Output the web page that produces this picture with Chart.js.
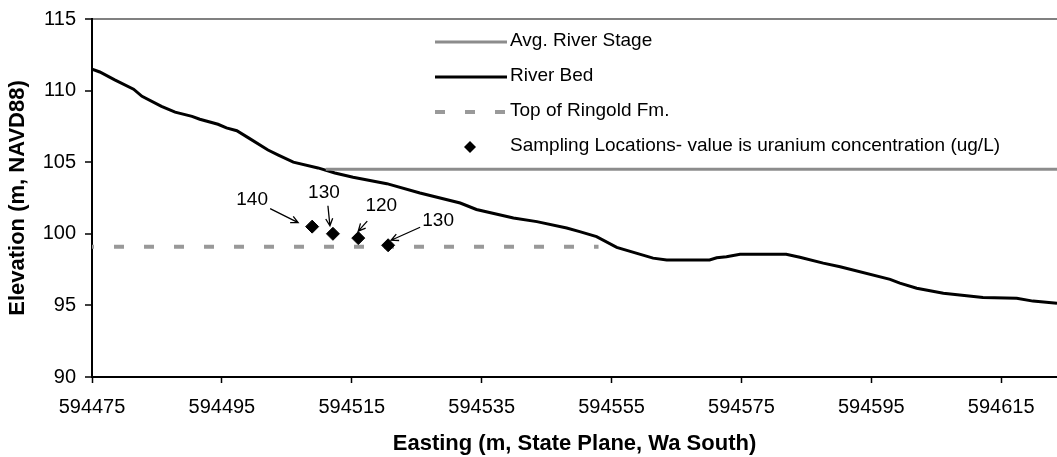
<!DOCTYPE html>
<html>
<head>
<meta charset="utf-8">
<script src="https://cdn.jsdelivr.net/npm/chart.js@4/dist/chart.umd.min.js"></script>
<style>
  html, body { margin: 0; padding: 0; overflow: hidden; background: #fff; }
  #wrap { position: relative; width: 1057px; height: 457px; }
  #profile { display: block; }
</style>
</head>
<body>
<div id="wrap"><canvas id="profile"></canvas></div>
<script>
'use strict';

// river bed profile along the transect
const bedEasting = [594475.0, 594476.2, 594478.5, 594481.4, 594482.7, 594485.7, 594487.8, 594490.4, 594491.6, 594494.4,
  594495.7, 594497.3, 594499.1, 594502.1, 594503.7, 594506.0, 594509.8, 594512.4, 594515.2, 594520.4,
  594525.5, 594531.7, 594534.2, 594539.9, 594543.5, 594548.1, 594550.1, 594552.7, 594555.8, 594561.4,
  594563.5, 594570.1, 594571.2, 594572.7, 594574.8, 594581.9, 594584.0, 594587.6, 594590.2, 594597.9,
  594599.4, 594602.0, 594606.1, 594612.2, 594617.4, 594619.9, 594623.6];
const bedElev = [111.5, 111.3, 110.75, 110.1, 109.6, 108.9, 108.5, 108.2, 108.0, 107.65,
  107.4, 107.2, 106.7, 105.85, 105.5, 105.0, 104.6, 104.25, 103.95, 103.5,
  102.85, 102.15, 101.7, 101.1, 100.85, 100.4, 100.15, 99.8, 99.05, 98.3,
  98.17, 98.17, 98.33, 98.4, 98.57, 98.57, 98.36, 97.95, 97.7, 96.82,
  96.55, 96.2, 95.85, 95.55, 95.5, 95.3, 95.15];

const stageEasting = [594511, 594623.6];
const stageElev = [104.5, 104.5];

const ringoldEasting = [594475, 594553];
const ringoldElev = [99.1, 99.1];

const sampleEasting = [594508.9, 594512.1, 594516.0, 594520.6];
const sampleElev = [100.5, 100.0, 99.7, 99.2];
const uranium = [140, 130, 120, 130];

const xMin = 594475;
const xMax = 594623.6;
const xTicks = [594475, 594495, 594515, 594535, 594555, 594575, 594595, 594615];
const yTicks = [90, 95, 100, 105, 110, 115];

// where each concentration label and its arrow sit, relative to the sample marker (px)
const callouts = [
  { label: [-60, -27], from: [-42, -18], to: [-14, -4] },
  { label: [-9, -41], from: [-5, -28], to: [-3, -8] },
  { label: [23, -32], from: [9, -17], to: [0, -7] },
  { label: [50, -24], from: [32, -18], to: [3, -5] }
];

const FONT = 'Arial, "Liberation Sans", sans-serif';
Chart.defaults.font.family = FONT;
Chart.defaults.color = '#000';

function toPoints(xs, ys) {
  return xs.map((x, i) => ({ x: x, y: ys[i] }));
}

function diamond(ctx, x, y, r) {
  ctx.beginPath();
  ctx.moveTo(x, y - r);
  ctx.lineTo(x + r, y);
  ctx.lineTo(x, y + r);
  ctx.lineTo(x - r, y);
  ctx.closePath();
  ctx.fill();
}

function arrow(ctx, x1, y1, x2, y2) {
  const a = Math.atan2(y2 - y1, x2 - x1);
  const head = 8;
  ctx.beginPath();
  ctx.moveTo(x1, y1);
  ctx.lineTo(x2, y2);
  ctx.moveTo(x2 - head * Math.cos(a - 0.45), y2 - head * Math.sin(a - 0.45));
  ctx.lineTo(x2, y2);
  ctx.lineTo(x2 - head * Math.cos(a + 0.45), y2 - head * Math.sin(a + 0.45));
  ctx.stroke();
}

// legend drawn inside the plot, one row per dataset
const plotLegend = {
  id: 'plotLegend',
  afterDraw(chart) {
    const ctx = chart.ctx;
    const area = chart.chartArea;
    const x0 = area.left + 343;
    let y = area.top + 22;
    ctx.save();
    ctx.font = '19px ' + FONT;
    ctx.textBaseline = 'middle';
    ctx.textAlign = 'left';
    chart.data.datasets.forEach(ds => {
      if (ds.showLine) {
        ctx.strokeStyle = ds.borderColor;
        ctx.lineWidth = ds.borderWidth;
        ctx.setLineDash(ds.borderDash || []);
        ctx.beginPath();
        ctx.moveTo(x0, y + 1);
        ctx.lineTo(x0 + 72, y + 1);
        ctx.stroke();
        ctx.setLineDash([]);
      } else {
        ctx.fillStyle = ds.backgroundColor;
        diamond(ctx, x0 + 35, y + 1, 6);
      }
      ctx.fillStyle = '#000';
      ctx.fillText(ds.label, x0 + 75, y);
      y += 35;
    });
    ctx.restore();
  }
};

// uranium concentration labels with arrows pointing at the samples
const sampleCallouts = {
  id: 'sampleCallouts',
  afterDatasetsDraw(chart) {
    const ctx = chart.ctx;
    const sx = chart.scales.x;
    const sy = chart.scales.y;
    ctx.save();
    ctx.font = '19px ' + FONT;
    ctx.textAlign = 'center';
    ctx.textBaseline = 'middle';
    ctx.fillStyle = '#000';
    ctx.strokeStyle = '#000';
    ctx.lineWidth = 1.3;
    for (let i = 0; i < sampleEasting.length; i++) {
      const px = sx.getPixelForValue(sampleEasting[i]);
      const py = sy.getPixelForValue(sampleElev[i]);
      const c = callouts[i];
      ctx.fillText(String(uranium[i]), px + c.label[0], py + c.label[1]);
      arrow(ctx, px + c.from[0], py + c.from[1], px + c.to[0], py + c.to[1]);
    }
    ctx.restore();
  }
};

let ctx = document.getElementById('profile').getContext('2d');
let profileChart = new Chart(ctx, {
  type: 'scatter',
  data: {
    datasets: [
      {
        label: 'Avg. River Stage',
        data: toPoints(stageEasting, stageElev),
        showLine: true,
        borderColor: '#8c8c8c',
        borderWidth: 3,
        pointRadius: 0
      },
      {
        label: 'River Bed',
        data: toPoints(bedEasting, bedElev),
        showLine: true,
        borderColor: '#000000',
        borderWidth: 3,
        pointRadius: 0
      },
      {
        label: 'Top of Ringold Fm.',
        data: toPoints(ringoldEasting, ringoldElev),
        showLine: true,
        borderColor: '#999999',
        borderWidth: 4,
        borderDash: [10, 20],
        borderDashOffset: 8,
        borderCapStyle: 'butt',
        pointRadius: 0
      },
      {
        label: 'Sampling Locations- value is uranium concentration (ug/L)',
        data: toPoints(sampleEasting, sampleElev),
        showLine: false,
        order: -1,
        pointStyle: 'rectRot',
        pointRadius: 6.5,
        backgroundColor: '#000000',
        borderColor: '#000000',
        borderWidth: 1
      }
    ]
  },
  options: {
    responsive: true,
    maintainAspectRatio: false,
    animation: false,
    layout: { autoPadding: false, padding: { top: 19, right: 0, bottom: 0, left: 0 } },
    plugins: {
      legend: { display: false },
      tooltip: { enabled: false }
    },
    scales: {
      x: {
        type: 'linear',
        min: xMin,
        max: xMax,
        afterBuildTicks: scale => { scale.ticks = xTicks.map(v => ({ value: v })); },
        afterFit: scale => {
          scale.height = 80;
          scale.paddingLeft = 0;
          scale.paddingRight = 0;
        },
        border: { color: '#000', width: 2 },
        grid: { drawOnChartArea: false, tickLength: 6, tickColor: '#000', tickWidth: 1.5 },
        ticks: {
          font: { size: 20 },
          color: '#000',
          padding: 12,
          maxRotation: 0,
          autoSkip: false,
          callback: v => String(v)
        },
        title: {
          display: true,
          text: 'Easting (m, State Plane, Wa South)',
          font: { size: 22, weight: 'bold' },
          color: '#000',
          padding: { top: 0, bottom: 0 }
        }
      },
      y: {
        min: 90,
        max: 115,
        afterBuildTicks: scale => { scale.ticks = yTicks.map(v => ({ value: v })); },
        afterFit: scale => {
          scale.width = 92;
          scale.paddingTop = 0;
          scale.paddingBottom = 0;
        },
        border: { color: '#000', width: 2 },
        grid: {
          color: c => (c.tick && c.tick.value === 115 ? '#808080' : 'rgba(0,0,0,0)'),
          lineWidth: 2,
          tickColor: '#000',
          tickLength: 7,
          tickWidth: 1.5
        },
        ticks: { font: { size: 20 }, color: '#000', padding: 9 },
        title: {
          display: true,
          text: 'Elevation (m, NAVD88)',
          font: { size: 22, weight: 'bold' },
          color: '#000',
          padding: { top: 5, bottom: 0 }
        }
      }
    }
  },
  plugins: [plotLegend, sampleCallouts]
});
</script>
</body>
</html>
